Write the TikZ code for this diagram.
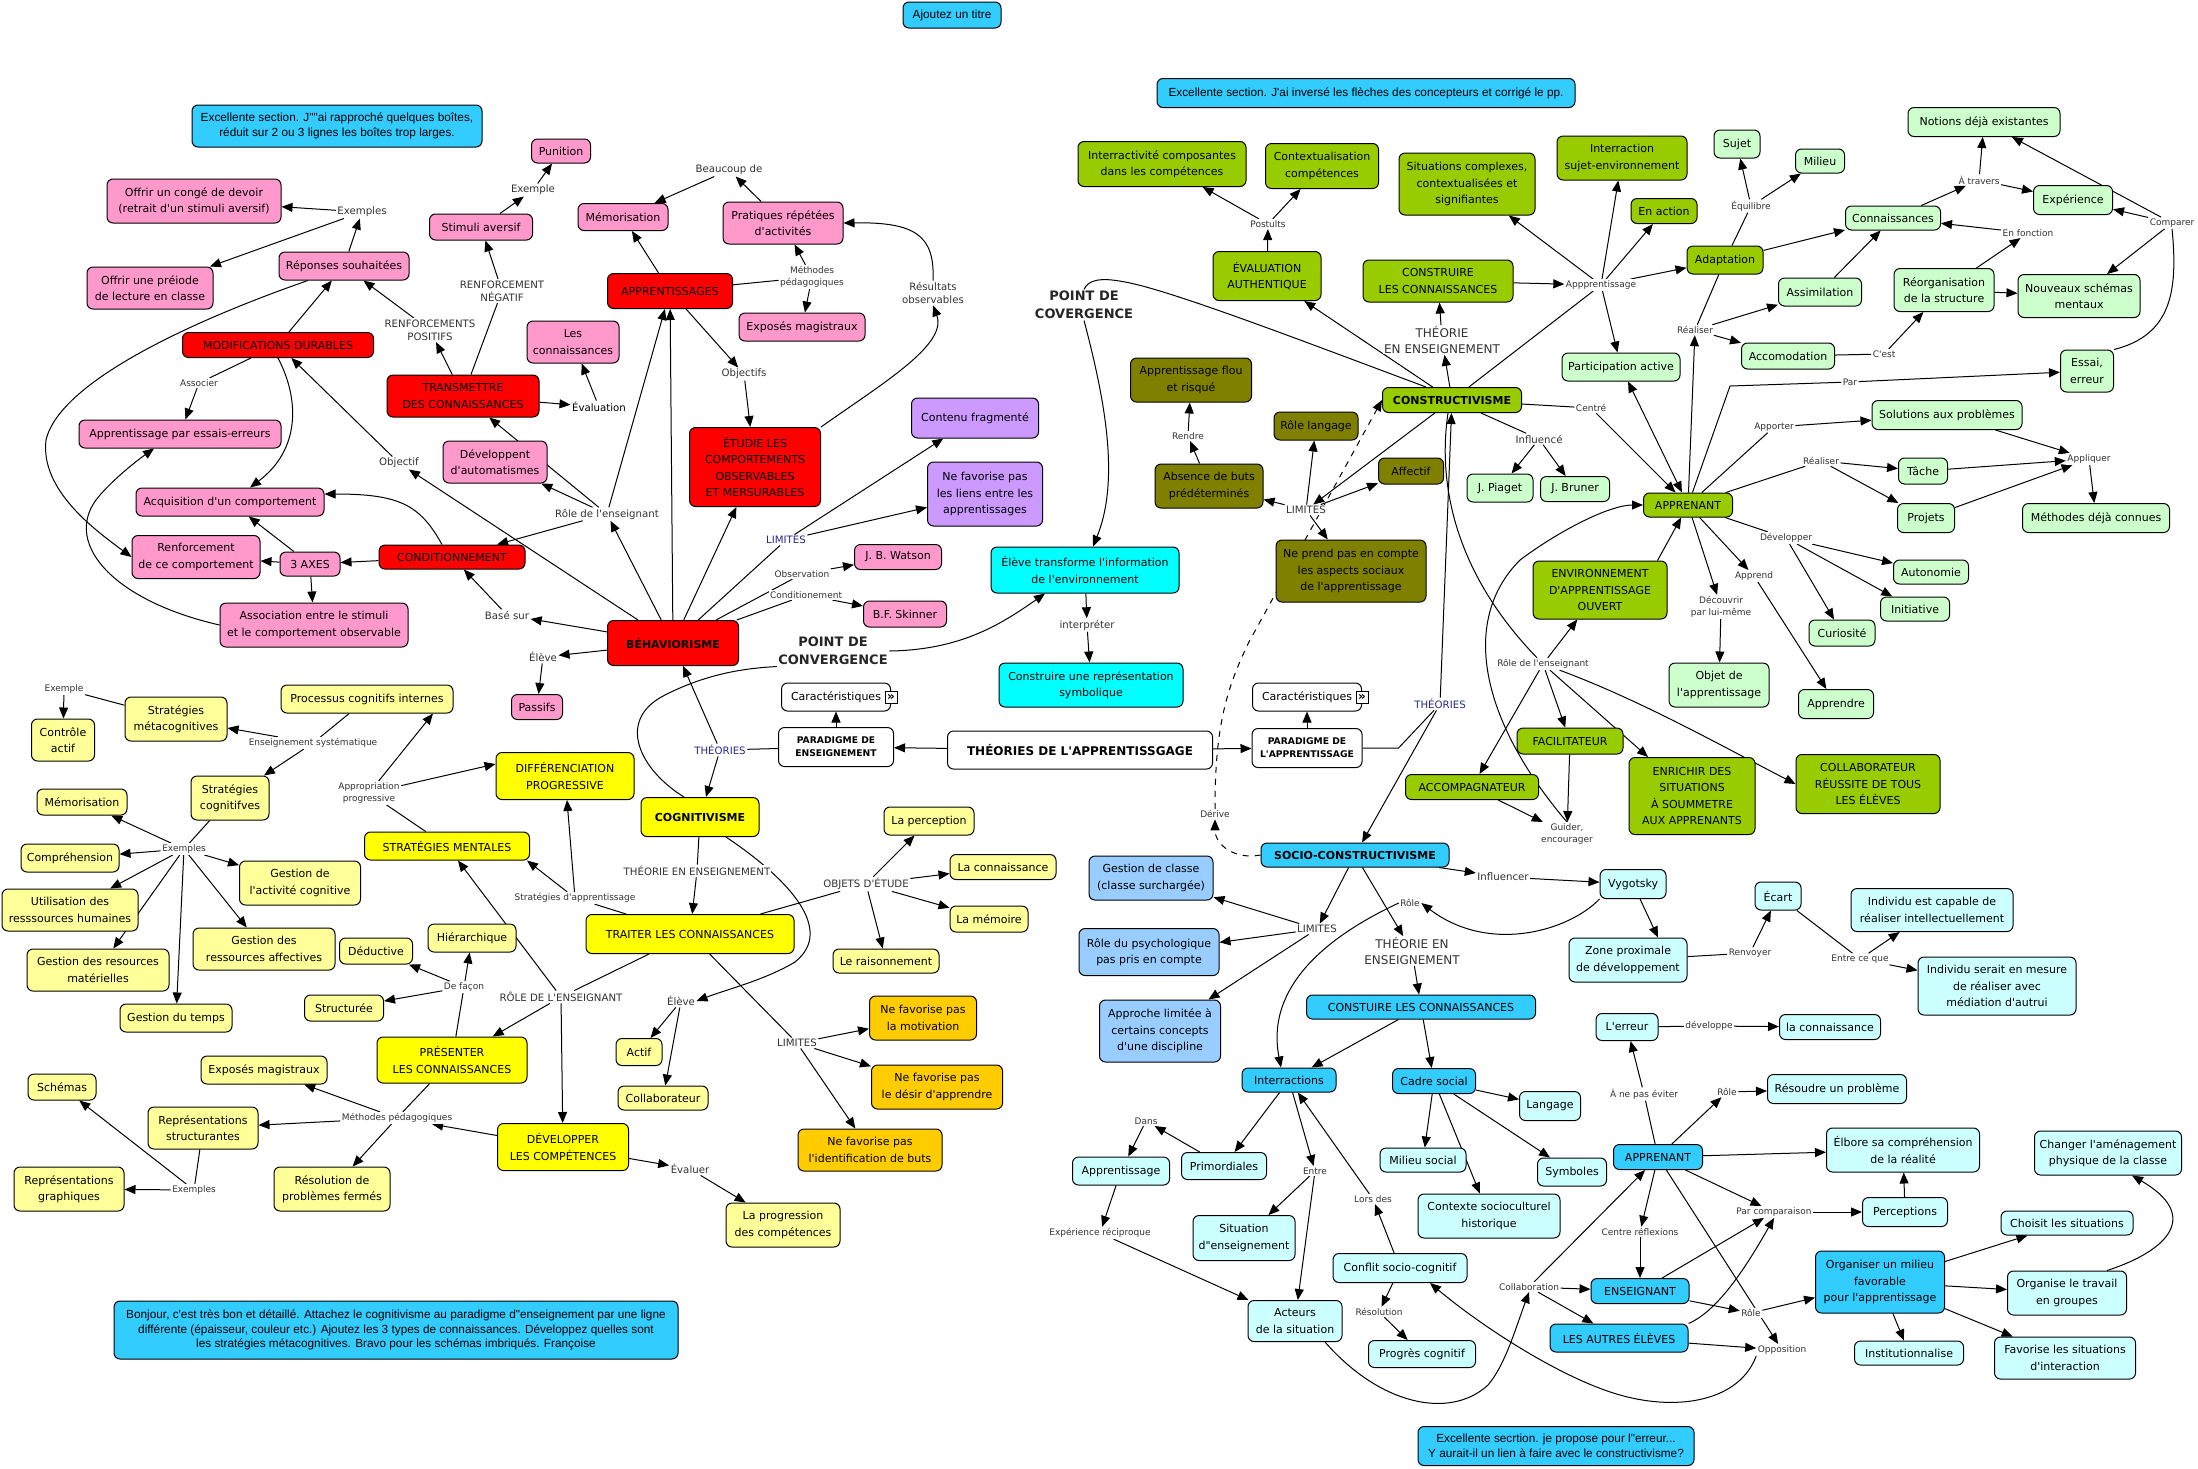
\documentclass[tikz,border=0pt]{standalone}
\usepackage{fontspec}
\setmainfont{DejaVu Sans}
\newfontfamily\mapfamily{DejaVu Sans}
\newfontfamily\mapnotefamily{Liberation Sans}
\usepackage{tikz}
\usetikzlibrary{arrows.meta,backgrounds}
\definecolor{mapPink}{RGB}{255,153,204}
\definecolor{mapRed}{RGB}{255,0,0}
\definecolor{mapYellow}{RGB}{255,255,0}
\definecolor{mapLightYellow}{RGB}{255,255,153}
\definecolor{mapOrange}{RGB}{255,204,0}
\definecolor{mapPurple}{RGB}{204,153,255}
\definecolor{mapCyan}{RGB}{0,255,255}
\definecolor{mapGreen}{RGB}{153,204,0}
\definecolor{mapLightGreen}{RGB}{204,255,204}
\definecolor{mapOlive}{RGB}{128,128,0}
\definecolor{mapBlue}{RGB}{51,204,255}
\definecolor{mapLightBlue}{RGB}{153,204,255}
\definecolor{mapLightCyan}{RGB}{204,255,255}
\definecolor{theoBlue}{RGB}{40,40,140}
\newcommand\mapnode{\mapfamily\fontsize{5.5}{8.2}\selectfont}
\newcommand\maplbl{\mapfamily\fontsize{5.1}{6.6}\selectfont}
\newcommand\mapslbl{\mapfamily\fontsize{4.5}{6}\selectfont}
\newcommand\mapmlbl{\mapfamily\fontsize{6}{7.6}\selectfont}
\newcommand\mapconv{\mapfamily\fontsize{6.5}{9}\selectfont\bfseries}
\newcommand\maptheo{\mapfamily\fontsize{6}{7}\selectfont\bfseries}
\newcommand\mapparad{\mapfamily\fontsize{4.6}{6.4}\selectfont\bfseries}
\newcommand\mapnote{\mapnotefamily\fontsize{5.9}{7.4}\selectfont}

\begin{document}
\begin{tikzpicture}[x=0.5pt, y=-0.5pt, >={Triangle[length=5.5pt,width=4.5pt]},
  box/.style={rounded corners=3pt, draw, line width=0.5pt, align=center, inner sep=1pt, font=\mapnode},
  sz/.style 2 args={minimum width=#1*0.5pt, minimum height=#2*0.5pt},
  pinkbox/.style={box, fill=mapPink},
  redbox/.style={box, fill=mapRed},
  yelbox/.style={box, fill=mapYellow},
  lyelbox/.style={box, fill=mapLightYellow},
  orabox/.style={box, fill=mapOrange},
  purbox/.style={box, fill=mapPurple},
  cyanbox/.style={box, fill=mapCyan},
  grnbox/.style={box, fill=mapGreen},
  lgrnbox/.style={box, fill=mapLightGreen},
  olvbox/.style={box, fill=mapOlive},
  blubox/.style={box, fill=mapBlue},
  lblubox/.style={box, fill=mapLightBlue},
  lcyanbox/.style={box, fill=mapLightCyan},
  whitebox/.style={box, fill=white},
  note/.style={box, fill=mapBlue, font=\mapnote},
  lbl/.style={font=\maplbl, text=black!80, fill=white, inner sep=0.6pt, align=center},
  slbl/.style={lbl, font=\mapslbl},
  mlbl/.style={lbl, font=\mapmlbl},
  plbl/.style={lbl, font=\mapconv, text=black!85},
  thlbl/.style={lbl, text=theoBlue},
  icon/.style={draw, fill=white, inner sep=0pt, minimum size=6pt, font=\mapfamily\fontsize{6}{6}\selectfont\bfseries},
  flow/.style={->, line width=0.5pt},
  ln/.style={line width=0.5pt}]
\useasboundingbox (0,0) rectangle (2198,1468);

\node[note, sz={98}{26}] (nTitre) at (952,15) {Ajoutez un titre};
\node[note, sz={418}{29}] (nSectA) at (1366,93) {Excellente section. J'ai inversé les flèches des concepteurs et corrigé le pp.};
\node[note, sz={290}{42}] (nSectB) at (337,126) {Excellente section. J""ai rapproché quelques boîtes,\\réduit sur 2 ou 3 lignes les boîtes trop larges.};
\node[note, sz={564}{58}] (nBonjour) at (396,1330) {Bonjour, c'est très bon et détaillé. Attachez le cognitivisme au paradigme d"enseignement par une ligne\\différente (épaisseur, couleur etc.) Ajoutez les 3 types de connaissances. Développez quelles sont\\les stratégies métacognitives. Bravo pour les schémas imbriqués. Françoise};
\node[note, sz={276}{39}] (nSecrtion) at (1556,1446) {Excellente secrtion. je propose pour l"erreur...\\Y aurait-il un lien à faire avec le constructivisme?};

\node[pinkbox, sz={174}{44}] (conge) at (194,201) {Offrir un congé de devoir\\(retrait d'un stimuli aversif)};
\node[pinkbox, sz={126}{42}] (preiode) at (150,288) {Offrir une préiode\\de lecture en classe};
\node[pinkbox, sz={130}{28}] (repons) at (344,266) {Réponses souhaitées};
\node[pinkbox, sz={103}{26}] (stimav) at (481,227) {Stimuli aversif};
\node[pinkbox, sz={59}{24}] (punit) at (561,151) {Punition};
\node[redbox, sz={191}{25}] (modif) at (278,345) {MODIFICATIONS DURABLES};
\node[pinkbox, sz={202}{28}] (essais) at (180,434) {Apprentissage par essais-erreurs};
\node[redbox, sz={152}{42}] (transm) at (463,396) {TRANSMETTRE\\DES CONNAISSANCES};
\node[pinkbox, sz={104}{42}] (devaut) at (495,462) {Développent\\d'automatismes};
\node[pinkbox, sz={188}{28}] (acquis) at (230,502) {Acquisition d'un comportement};
\node[pinkbox, sz={128}{43}] (renfc) at (196,557) {Renforcement\\de ce comportement};
\node[pinkbox, sz={60}{24}] (axes) at (310,564) {3 AXES};
\node[redbox, sz={146}{24}] (condi) at (452,557) {CONDITIONNEMENT};
\node[pinkbox, sz={188}{44}] (assoc) at (314,625) {Association entre le stimuli\\et le comportement observable};
\node[pinkbox, sz={90}{27}] (memo) at (623,217) {Mémorisation};
\node[pinkbox, sz={120}{42}] (prat) at (783,223) {Pratiques répétées\\d'activités};
\node[redbox, sz={125}{35}] (apprs) at (670,291) {APPRENTISSAGES};
\node[pinkbox, sz={126}{28}] (expmag) at (802,327) {Exposés magistraux};
\node[pinkbox, sz={92}{42}] (connb) at (573,342) {Les\\connaissances};
\node[redbox, sz={131}{79}] (etudie) at (755,467) {ÉTUDIE LES\\COMPORTEMENTS\\OBSERVABLES\\ET MERSURABLES};
\node[purbox, sz={127}{40}] (contfr) at (975,418) {Contenu fragmenté};
\node[purbox, sz={115}{64}] (liens) at (985,494) {Ne favorise pas\\les liens entre les\\apprentissages};
\node[pinkbox, sz={87}{25}] (watson) at (898,557) {J. B. Watson};
\node[pinkbox, sz={83}{26}] (skinner) at (905,614) {B.F. Skinner};
\node[redbox, sz={131}{45}, font=\mapnode\bfseries] (behav) at (673,643) {BÉHAVIORISME};
\node[pinkbox, sz={51}{25}] (passifs) at (537,707) {Passifs};
\node[cyanbox, sz={188}{46}] (eltrans) at (1085,570) {Élève transforme l'information\\de l'environnement};
\node[cyanbox, sz={184}{44}] (constsym) at (1091,685) {Construire une représentation\\symbolique};

\node[lbl] (lExples) at (362,212) {Exemples};
\node[lbl] (lExple) at (533,190) {Exemple};
\node[lbl] (lRneg) at (502,291) {RENFORCEMENT\\NÉGATIF};
\node[lbl] (lRpos) at (430,330) {RENFORCEMENTS\\POSITIFS};
\node[slbl] (lAssoc) at (199,383) {Associer};
\node[lbl] (lObjf) at (399,463) {Objectif};
\node[lbl] (lBase) at (507,615) {Basé sur};
\node[lbl] (lEleve) at (543,657) {Élève};
\node[lbl] (lBeauc) at (729,170) {Beaucoup de};
\node[slbl] (lMeth) at (812,277) {Méthodes\\pédagogiques};
\node[lbl] (lResult) at (933,293) {Résultats\\observables};
\node[lbl, text=black] (lEval) at (599,407) {Évaluation};
\node[lbl] (lObjs) at (744,374) {Objectifs};
\node[thlbl] (lLimB) at (786,540) {LIMITES};
\node[lbl] (lRole) at (607,514) {Rôle de l'enseignant};
\node[slbl] (lObs) at (802,574) {Observation};
\node[slbl] (lCond) at (806,595) {Conditionement};
\node[plbl] (lPconv) at (833,651) {POINT DE\\CONVERGENCE};
\node[plbl] (lPcov) at (1084,305) {POINT DE\\COVERGENCE};
\node[lbl] (lInterp) at (1087,625) {interpréter};

\node[lyelbox, sz={63}{42}] (ctrl) at (63,740) {Contrôle\\actif};
\node[lyelbox, sz={102}{44}] (metac) at (176,719) {Stratégies\\métacognitives};
\node[lyelbox, sz={172}{28}] (proc) at (367,699) {Processus cognitifs internes};
\node[lyelbox, sz={78}{44}] (cogn) at (230,798) {Stratégies\\cognitifves};
\node[yelbox, sz={138}{47}] (diff) at (565,776) {DIFFÉRENCIATION\\PROGRESSIVE};
\node[lyelbox, sz={90}{26}] (memc) at (82,802) {Mémorisation};
\node[lyelbox, sz={98}{28}] (compr) at (70,858) {Compréhension};
\node[lyelbox, sz={121}{44}] (gact) at (300,883) {Gestion de\\l'activité cognitive};
\node[lyelbox, sz={136}{42}] (utilr) at (70,910) {Utilisation des\\resssources humaines};
\node[yelbox, sz={165}{28}] (stratm) at (447,846) {STRATÉGIES MENTALES};
\node[lyelbox, sz={142}{42}] (gaff) at (264,949) {Gestion des\\ressources affectives};
\node[lyelbox, sz={73}{26}] (deduc) at (376,951) {Déductive};
\node[lyelbox, sz={88}{28}] (hier) at (472,938) {Hiérarchique};
\node[lyelbox, sz={142}{42}] (gmat) at (98,970) {Gestion des resources\\matérielles};
\node[lyelbox, sz={79}{26}] (struc) at (344,1008) {Structurée};
\node[lyelbox, sz={112}{28}] (gtemps) at (176,1018) {Gestion du temps};
\node[yelbox, sz={150}{46}] (presen) at (452,1060) {PRÉSENTER\\LES CONNAISSANCES};
\node[lyelbox, sz={126}{28}] (expmc) at (264,1070) {Exposés magistraux};
\node[lyelbox, sz={68}{26}] (schem) at (62,1087) {Schémas};
\node[lyelbox, sz={110}{42}] (repstr) at (203,1128) {Représentations\\structurantes};
\node[yelbox, sz={131}{47}] (devcomp) at (563,1147) {DÉVELOPPER\\LES COMPÉTENCES};
\node[lyelbox, sz={110}{44}] (repgr) at (69,1189) {Représentations\\graphiques};
\node[lyelbox, sz={116}{44}] (resol) at (332,1189) {Résolution de\\problèmes fermés};
\node[yelbox, sz={118}{39}, font=\mapnode\bfseries] (cognit) at (700,817) {COGNITIVISME};
\node[lyelbox, sz={90}{28}] (percep) at (929,821) {La perception};
\node[lyelbox, sz={106}{25}] (lconn) at (1003,867) {La connaissance};
\node[lyelbox, sz={78}{26}] (lmem) at (989,919) {La mémoire};
\node[yelbox, sz={208}{39}] (traiter) at (690,934) {TRAITER LES CONNAISSANCES};
\node[lyelbox, sz={106}{24}] (raison) at (886,961) {Le raisonnement};
\node[orabox, sz={107}{44}] (motiv) at (923,1018) {Ne favorise pas\\la motivation};
\node[lyelbox, sz={46}{27}] (actif) at (639,1052) {Actif};
\node[orabox, sz={131}{44}] (desir) at (937,1087) {Ne favorise pas\\le désir d'apprendre};
\node[lyelbox, sz={90}{24}] (collab) at (663,1098) {Collaborateur};
\node[orabox, sz={144}{42}] (idbuts) at (870,1150) {Ne favorise pas\\l'identification de buts};
\node[lyelbox, sz={114}{44}] (progr) at (783,1225) {La progression\\des compétences};

\node[slbl] (lExC) at (64,689) {Exemple};
\node[slbl] (lEnsSys) at (313,743) {Enseignement systématique};
\node[slbl] (lAppro) at (369,793) {Appropriation\\progressive};
\node[slbl] (lExs) at (184,849) {Exemples};
\node[slbl] (lDefa) at (464,987) {De façon};
\node[lbl] (lRoleE) at (561,997) {RÔLE DE L'ENSEIGNANT};
\node[slbl] (lStrA) at (575,898) {Stratégies d'apprentissage};
\node[slbl] (lMethP) at (397,1118) {Méthodes pédagogiques};
\node[slbl] (lExs2) at (194,1190) {Exemples};
\node[lbl] (lTheoC) at (697,871) {THÉORIE EN ENSEIGNEMENT};
\node[lbl] (lObjE) at (866,884) {OBJETS D'ÉTUDE};
\node[lbl] (lElC) at (681,1001) {Élève};
\node[lbl] (lLimC) at (797,1043) {LIMITES};
\node[lbl] (lEvalr) at (690,1169) {Évaluer};
\node[thlbl] (lTheoB) at (720,750) {THÉORIES};

\node[whitebox, sz={109}{28}] (cara1) at (836,697) {Caractéristiques};
\node[icon] (ic1) at (cara1.east) {»};
\node[whitebox, sz={115}{39}, font=\mapparad] (paraE) at (836,747) {PARADIGME DE\\ENSEIGNEMENT};
\node[whitebox, sz={265}{38}, font=\maptheo] (theor) at (1080,750) {THÉORIES DE L'APPRENTISSGAGE};
\node[whitebox, sz={110}{39}, font=\mapparad] (paraA) at (1307,748) {PARADIGME DE\\L'APPRENTISSAGE};
\node[whitebox, sz={109}{28}] (cara2) at (1307,697) {Caractéristiques};
\node[icon] (ic2) at (cara2.east) {»};

\node[grnbox, sz={168}{45}] (inter) at (1162,164) {Interractivité composantes\\dans les compétences};
\node[grnbox, sz={113}{45}] (contx) at (1322,166) {Contextualisation\\compétences};
\node[grnbox, sz={136}{62}] (situ) at (1467,184) {Situations complexes,\\contextualisées et\\signifiantes};
\node[grnbox, sz={130}{44}] (sujenv) at (1622,158) {Interraction\\sujet-environnement};
\node[grnbox, sz={108}{49}] (evalA) at (1267,276) {ÉVALUATION\\AUTHENTIQUE};
\node[grnbox, sz={150}{42}] (constr) at (1438,281) {CONSTRUIRE\\LES CONNAISSANCES};
\node[grnbox, sz={66}{25}] (enact) at (1664,211) {En action};
\node[grnbox, sz={76}{28}] (adapt) at (1725,260) {Adaptation};
\node[lgrnbox, sz={118}{28}] (partic) at (1621,367) {Participation active};
\node[olvbox, sz={121}{44}] (flou) at (1191,380) {Apprentissage flou\\et risqué};
\node[olvbox, sz={84}{28}] (rlang) at (1316,426) {Rôle langage};
\node[grnbox, sz={139}{25}, font=\mapnode\bfseries] (constv) at (1452,400) {CONSTRUCTIVISME};
\node[olvbox, sz={108}{44}] (absen) at (1209,486) {Absence de buts\\prédéterminés};
\node[olvbox, sz={65}{26}] (affec) at (1411,471) {Affectif};
\node[lgrnbox, sz={66}{28}] (piaget) at (1500,488) {J. Piaget};
\node[lgrnbox, sz={69}{25}] (bruner) at (1575,489) {J. Bruner};
\node[olvbox, sz={150}{62}] (nesoc) at (1351,571) {Ne prend pas en compte\\les aspects sociaux\\de l'apprentissage};
\node[grnbox, sz={134}{58}] (envir) at (1600,590) {ENVIRONNEMENT\\D'APPRENTISSAGE\\OUVERT};
\node[lgrnbox, sz={152}{29}] (notions) at (1984,122) {Notions déjà existantes};
\node[lgrnbox, sz={46}{28}] (sujet) at (1737,144) {Sujet};
\node[lgrnbox, sz={49}{24}] (milieu) at (1820,161) {Milieu};
\node[lgrnbox, sz={79}{29}] (exper) at (2073,200) {Expérience};
\node[lgrnbox, sz={95}{24}] (connsc) at (1893,218) {Connaissances};
\node[lgrnbox, sz={83}{28}] (assim) at (1820,292) {Assimilation};
\node[lgrnbox, sz={100}{43}] (reorg) at (1944,290) {Réorganisation\\de la structure};
\node[lgrnbox, sz={122}{43}] (nouv) at (2079,296) {Nouveaux schémas\\mentaux};
\node[lgrnbox, sz={93}{26}] (accom) at (1788,356) {Accomodation};
\node[lgrnbox, sz={53}{42}] (essai) at (2087,371) {Essai,\\erreur};
\node[lgrnbox, sz={150}{29}] (solut) at (1947,415) {Solutions aux problèmes};
\node[lgrnbox, sz={49}{26}] (tache) at (1923,471) {Tâche};
\node[grnbox, sz={89}{24}] (apprG) at (1688,505) {APPRENANT};
\node[lgrnbox, sz={57}{29}] (projets) at (1926,518) {Projets};
\node[lgrnbox, sz={147}{29}] (methc) at (2096,518) {Méthodes déjà connues};
\node[lgrnbox, sz={75}{24}] (autono) at (1931,572) {Autonomie};
\node[lgrnbox, sz={69}{24}] (initi) at (1915,609) {Initiative};
\node[lgrnbox, sz={66}{26}] (curio) at (1842,633) {Curiosité};
\node[lgrnbox, sz={100}{44}] (objapp) at (1719,685) {Objet de\\l'apprentissage};
\node[lgrnbox, sz={75}{29}] (apprend) at (1836,704) {Apprendre};
\node[grnbox, sz={106}{26}] (facil) at (1570,741) {FACILITATEUR};
\node[grnbox, sz={133}{25}] (accomp) at (1472,787) {ACCOMPAGNATEUR};
\node[grnbox, sz={126}{77}] (enrich) at (1692,796) {ENRICHIR DES\\SITUATIONS\\À SOUMMETRE\\AUX APPRENANTS};
\node[grnbox, sz={144}{59}] (collR) at (1868,784) {COLLABORATEUR\\RÉUSSITE DE TOUS\\LES ÉLÈVES};

\node[slbl] (lPost) at (1268,224) {Postults};
\node[slbl] (lAppp) at (1601,285) {Appprentissage};
\node[mlbl] (lTheoK) at (1442,340) {THÉORIE\\EN ENSEIGNEMENT};
\node[slbl] (lRendre) at (1188,436) {Rendre};
\node[slbl] (lCentre) at (1591,408) {Centré};
\node[lbl] (lInflu) at (1539,439) {Influencé};
\node[lbl] (lLimK) at (1306,510) {LIMITES};
\node[slbl] (lRoleK) at (1543,664) {Rôle de l'enseignant};
\node[slbl] (lGuider) at (1567,834) {Guider,\\encourager};
\node[slbl] (lEquil) at (1751,206) {Équilibre};
\node[slbl] (lAtrav) at (1979,180) {À travers};
\node[slbl] (lCompar) at (2172,223) {Comparer};
\node[slbl] (lEnfonc) at (2028,233) {En fonction};
\node[slbl] (lReal1) at (1695,330) {Réaliser};
\node[slbl] (lCest) at (1884,354) {C'est};
\node[slbl] (lPar) at (1850,382) {Par};
\node[slbl] (lApport) at (1774,427) {Apporter};
\node[slbl] (lReal2) at (1821,461) {Réaliser};
\node[slbl] (lAppliq) at (2089,459) {Appliquer};
\node[slbl] (lDevel) at (1786,538) {Développer};
\node[slbl] (lAppren) at (1754,576) {Apprend};
\node[slbl] (lDecouv) at (1721,607) {Découvrir\\par lui-même};
\node[thlbl] (lTheoS) at (1440,704) {THÉORIES};
\node[slbl] (lDerive) at (1215,814) {Dérive};

\node[blubox, sz={188}{24}, font=\mapnode\bfseries] (socio) at (1355,855) {SOCIO-CONSTRUCTIVISME};
\node[lblubox, sz={124}{44}] (gclas) at (1151,878) {Gestion de classe\\(classe surchargée)};
\node[lblubox, sz={140}{47}] (rpsy) at (1149,952) {Rôle du psychologique\\pas pris en compte};
\node[lblubox, sz={121}{62}] (approl) at (1160,1031) {Approche limitée à\\certains concepts\\d'une discipline};
\node[blubox, sz={229}{24}] (constu) at (1421,1007) {CONSTUIRE LES CONNAISSANCES};
\node[blubox, sz={94}{24}] (interr) at (1289,1080) {Interractions};
\node[blubox, sz={83}{25}] (cadre) at (1434,1081) {Cadre social};
\node[lcyanbox, sz={61}{29}] (langg) at (1550,1106) {Langage};
\node[lcyanbox, sz={97}{28}] (apprs2) at (1121,1171) {Apprentissage};
\node[lcyanbox, sz={85}{27}] (primo) at (1224,1166) {Primordiales};
\node[lcyanbox, sz={86}{24}] (msoc) at (1423,1160) {Milieu social};
\node[lcyanbox, sz={69}{28}] (symb) at (1572,1172) {Symboles};
\node[lcyanbox, sz={142}{44}] (contex) at (1489,1216) {Contexte socioculturel\\historique};
\node[lcyanbox, sz={102}{45}] (situE) at (1244,1238) {Situation\\d"enseignement};
\node[lcyanbox, sz={134}{29}] (conflit) at (1400,1268) {Conflit socio-cognitif};
\node[lcyanbox, sz={94}{41}] (acteurs) at (1295,1321) {Acteurs\\de la situation};
\node[lcyanbox, sz={107}{27}] (progc) at (1422,1354) {Progrès cognitif};
\node[lcyanbox, sz={66}{29}] (vygot) at (1633,884) {Vygotsky};
\node[lcyanbox, sz={46}{28}] (ecart) at (1778,896) {Écart};
\node[lcyanbox, sz={162}{43}] (indcap) at (1932,910) {Individu est capable de\\réaliser intellectuellement};
\node[lcyanbox, sz={118}{44}] (zone) at (1628,960) {Zone proximale\\de développement};
\node[lcyanbox, sz={158}{58}] (indser) at (1997,986) {Individu serait en mesure\\de réaliser avec\\médiation d'autrui};
\node[lcyanbox, sz={62}{27}] (erreur) at (1627,1027) {L'erreur};
\node[lcyanbox, sz={101}{25}] (laconn) at (1830,1027) {la connaissance};
\node[lcyanbox, sz={139}{29}] (resoud) at (1837,1089) {Résoudre un problème};
\node[blubox, sz={89}{25}] (apprB) at (1658,1157) {APPRENANT};
\node[lcyanbox, sz={153}{44}] (elbore) at (1903,1150) {Élbore sa compréhension\\de la réalité};
\node[lcyanbox, sz={147}{44}] (changer) at (2108,1153) {Changer l'aménagement\\physique de la classe};
\node[lcyanbox, sz={85}{29}] (percp) at (1905,1212) {Perceptions};
\node[lcyanbox, sz={132}{24}] (choisit) at (2067,1223) {Choisit les situations};
\node[blubox, sz={129}{62}] (organ) at (1880,1282) {Organiser un milieu\\favorable\\pour l'apprentissage};
\node[blubox, sz={98}{25}] (enseig) at (1640,1291) {ENSEIGNANT};
\node[lcyanbox, sz={119}{44}] (orgtr) at (2067,1293) {Organise le travail\\en groupes};
\node[blubox, sz={138}{28}] (autres) at (1619,1338) {LES AUTRES ÉLÈVES};
\node[lcyanbox, sz={109}{24}] (instit) at (1909,1353) {Institutionnalise};
\node[lcyanbox, sz={141}{42}] (favor) at (2065,1358) {Favorise les situations\\d'interaction};

\node[lbl] (lInfl2) at (1503,877) {Influencer};
\node[slbl] (lRoleS) at (1410,903) {Rôle};
\node[lbl] (lLimS) at (1317,929) {LIMITES};
\node[mlbl] (lTheoS2) at (1412,951) {THÉORIE EN\\ENSEIGNEMENT};
\node[slbl] (lRenv) at (1750,953) {Renvoyer};
\node[slbl] (lEntreq) at (1860,959) {Entre ce que};
\node[slbl] (lDevp) at (1709,1026) {développe};
\node[slbl] (lApas) at (1644,1094) {À ne pas éviter};
\node[slbl] (lRole2) at (1727,1092) {Rôle};
\node[slbl] (lDans) at (1146,1121) {Dans};
\node[slbl] (lEntre) at (1315,1171) {Entre};
\node[slbl] (lLors) at (1373,1199) {Lors des};
\node[slbl] (lExpR) at (1100,1233) {Expérience réciproque};
\node[slbl] (lParc) at (1774,1212) {Par comparaison};
\node[slbl] (lCentR) at (1640,1232) {Centre réflexions};
\node[slbl] (lCollab) at (1529,1287) {Collaboration};
\node[slbl] (lResolu) at (1379,1312) {Résolution};
\node[slbl] (lRole3) at (1751,1313) {Rôle};
\node[slbl] (lOppo) at (1782,1350) {Opposition};

\begin{scope}[on background layer]
\fill[white] (0,0) rectangle (2198,1468);
\draw[flow] (behav) -- (lBase);
\draw[flow] (lBase) -- (condi);
\draw[flow] (behav) -- (lEleve);
\draw[flow] (lEleve) -- (passifs);
\draw[flow] (behav) -- (lObjf);
\draw[flow] (lObjf) -- (modif);
\draw[flow] (behav) -- (lRole);
\draw[flow] (lRole) -- (apprs);
\draw[flow] (lRole) -- (transm);
\draw[flow] (lRole) -- (devaut);
\draw[flow] (lRole) -- (condi);
\draw[flow] (behav) -- (apprs);
\draw[flow] (behav) -- (etudie);
\draw[ln] (behav) -- (lLimB);
\draw[flow] (lLimB) -- (contfr);
\draw[flow] (lLimB) -- (liens);
\draw[ln] (behav) -- (lObs);
\draw[flow] (lObs) -- (watson);
\draw[ln] (behav) -- (lCond);
\draw[flow] (lCond) -- (skinner);
\draw[flow] (apprs) -- (memo);
\draw[flow] (prat) -- (lBeauc);
\draw[flow] (lBeauc) -- (memo);
\draw[ln] (apprs) -- (lMeth);
\draw[flow] (lMeth) -- (prat);
\draw[flow] (lMeth) -- (expmag);
\draw[flow] (apprs) -- (lObjs);
\draw[flow] (lObjs) -- (etudie);
\draw[flow] (etudie.north east) .. controls (880,385) and (948,345) .. (lResult.south);
\draw[flow] (lResult.north) .. controls (935,235) and (915,222) .. (prat.east);
\draw[flow] (transm) -- (lEval);
\draw[flow] (lEval) -- (connb);
\draw[flow] (transm) -- (lRpos);
\draw[flow] (lRpos) -- (repons);
\draw[ln] (transm) -- (lRneg);
\draw[flow] (lRneg) -- (stimav);
\draw[flow] (stimav) -- (lExple);
\draw[flow] (lExple) -- (punit);
\draw[flow] (repons) -- (lExples);
\draw[flow] (lExples) -- (conge);
\draw[flow] (lExples) -- (preiode);
\draw[flow] (modif) -- (repons);
\draw[ln] (modif) -- (lAssoc);
\draw[flow] (lAssoc) -- (essais);
\draw[flow] (modif.south) .. controls (300,400) and (300,450) .. ([xshift=10pt]acquis.north);
\draw[flow] ([xshift=-18pt]repons.south) .. controls (200,318) and (60,380) .. (46,440) .. controls (40,490) and (95,530) .. (renfc.west);
\draw[flow] (assoc.west) .. controls (110,600) and (60,540) .. (100,495) .. controls (115,478) and (135,462) .. ([xshift=-13pt]essais.south);
\draw[flow] ([xshift=-5pt]condi.north) .. controls (420,505) and (400,494) .. ([yshift=4pt]acquis.east);
\draw[flow] (condi) -- (axes);
\draw[flow] (axes) -- (acquis);
\draw[flow] (axes) -- (renfc);
\draw[flow] (axes) -- (assoc);
\draw[ln] ([xshift=-8pt]cognit.north) .. controls (640,770) and (615,720) .. (665,695) .. controls (710,672) and (750,668) .. (lPconv.south west);
\draw[flow] (lPconv.east) .. controls (960,650) and (1000,625) .. ([xshift=-20pt]eltrans.south);
\draw[ln] ([xshift=-13pt]constv.north) .. controls (1300,340) and (1170,290) .. (1125,282) .. controls (1100,277) and (1088,280) .. (lPcov.north);
\draw[flow] (lPcov.south) .. controls (1105,400) and (1120,480) .. ([xshift=4pt]eltrans.north);
\draw[flow] (eltrans) -- (lInterp);
\draw[flow] (lInterp) -- (constsym);

\draw[ln] (paraE) -- (lTheoB);
\draw[flow] (lTheoB) -- (behav);
\draw[flow] (lTheoB) -- (cognit);
\draw[ln] (cognit) -- (lTheoC);
\draw[flow] (lTheoC) -- (traiter);
\draw[flow] ([xshift=13pt]cognit.south) .. controls (790,880) and (835,930) .. (795,962) .. controls (765,980) and (725,990) .. (lElC.east);
\draw[flow] (lElC) -- (actif);
\draw[flow] (lElC) -- (collab);
\draw[ln] (traiter) -- (lObjE);
\draw[flow] (lObjE) -- (percep);
\draw[flow] (lObjE) -- (lconn);
\draw[flow] (lObjE) -- (lmem);
\draw[flow] (lObjE) -- (raison);
\draw[ln] (traiter) -- (lLimC);
\draw[flow] (lLimC) -- (motiv);
\draw[flow] (lLimC) -- (desir);
\draw[flow] (lLimC) -- (idbuts);
\draw[ln] (traiter) -- (lStrA);
\draw[flow] (lStrA) -- ([xshift=40pt]stratm.south);
\draw[flow] (lStrA) -- (diff);
\draw[ln] (traiter) -- (lRoleE);
\draw[flow] (lRoleE) -- (presen);
\draw[flow] (lRoleE) -- (devcomp);
\draw[flow] (lRoleE) -- (stratm);
\draw[ln] (stratm) -- (lAppro);
\draw[flow] (lAppro) -- ([xshift=33pt]proc.south);
\draw[flow] (lAppro) -- ([yshift=6pt]diff.west);
\draw[ln] (presen) -- (lDefa);
\draw[flow] (lDefa) -- (hier);
\draw[flow] (lDefa) -- (deduc);
\draw[flow] (lDefa) -- (struc);
\draw[ln] (presen) -- (lMethP);
\draw[flow] (devcomp) -- (lMethP);
\draw[flow] (lMethP) -- (expmc);
\draw[flow] (lMethP) -- (repstr);
\draw[flow] (lMethP) -- (resol);
\draw[flow] (devcomp) -- (lEvalr);
\draw[flow] (lEvalr) -- (progr);
\draw[ln] (repstr) -- (lExs2);
\draw[flow] (lExs2) -- (schem);
\draw[flow] (lExs2) -- (repgr);
\draw[ln] (proc) -- (lEnsSys);
\draw[flow] (lEnsSys) -- (metac);
\draw[flow] (lEnsSys) -- (cogn);
\draw[ln] (metac) -- (lExC);
\draw[flow] (lExC) -- (ctrl);
\draw[ln] (cogn) -- (lExs);
\draw[flow] (lExs) -- (memc);
\draw[flow] (lExs) -- (compr);
\draw[flow] (lExs) -- (utilr);
\draw[flow] (lExs) -- (gmat);
\draw[flow] (lExs) -- (gtemps);
\draw[flow] (lExs) -- (gaff);
\draw[flow] (lExs) -- (gact);

\draw[flow] (theor) -- (paraE);
\draw[flow] (theor) -- (paraA);
\draw[flow] (paraE) -- (cara1);
\draw[flow] (paraA) -- (cara2);
\draw[ln] (paraA.east) -- ++(36,0) -- (lTheoS);
\draw[flow] (lTheoS) -- (constv);
\draw[flow] (lTheoS) -- (socio);

\draw[flow] (constv) -- (lTheoK);
\draw[flow] (lTheoK) -- (constr);
\draw[flow] (constv) -- (evalA);
\draw[flow] (evalA) -- (lPost);
\draw[flow] (lPost) -- (inter);
\draw[flow] (lPost) -- (contx);
\draw[flow] (constr) -- (lAppp);
\draw[ln] (constv) -- (lAppp);
\draw[flow] (lAppp) -- (situ);
\draw[flow] (lAppp) -- (sujenv);
\draw[flow] (lAppp) -- (enact);
\draw[flow] (lAppp) -- (adapt);
\draw[flow] (lAppp) -- (partic);
\draw[ln] (constv) -- (lCentre);
\draw[flow] (lCentre) -- (apprG);
\draw[ln] (constv) -- (lInflu);
\draw[flow] (lInflu) -- (piaget);
\draw[flow] (lInflu) -- (bruner);
\draw[flow] (constv) -- (lLimK);
\draw[flow] (lLimK) -- (absen);
\draw[flow] (lLimK) -- (rlang);
\draw[flow] (lLimK) -- (affec);
\draw[flow] (lLimK) -- (nesoc);
\draw[flow] (absen) -- (lRendre);
\draw[flow] (lRendre) -- (flou);
\draw[flow, dashed] (socio.west) .. controls (1235,860) and (1215,845) .. (lDerive.south);
\draw[flow, dashed] (lDerive.north) .. controls (1215,730) and (1225,690) .. (1250,640) -- (constv.west);
\draw[ln] (adapt) -- (lEquil);
\draw[flow] (lEquil) -- (sujet);
\draw[flow] (lEquil) -- (milieu);
\draw[flow] (adapt) -- (connsc);
\draw[ln] (adapt) -- (lReal1);
\draw[flow] (apprG) -- (lReal1);
\draw[flow] (lReal1) -- (assim);
\draw[flow] (lReal1) -- (accom);
\draw[flow] (assim) -- (connsc);
\draw[ln] (accom) -- (lCest);
\draw[flow] (lCest) -- (reorg);
\draw[flow] (reorg) -- (lEnfonc);
\draw[flow] (lEnfonc) -- (connsc);
\draw[flow] (reorg) -- (nouv);
\draw[flow] (connsc) -- (lAtrav);
\draw[flow] (lAtrav) -- (notions);
\draw[flow] (lAtrav) -- (exper);
\draw[ln] (essai.north east) .. controls (2172,335) and (2178,290) .. (lCompar.south);
\draw[flow] (lCompar) -- (notions);
\draw[flow] (lCompar) -- (exper);
\draw[flow] (lCompar) -- (nouv);
\draw[ln] (apprG) -- (1730,386) -- (lPar);
\draw[flow] (lPar) -- (essai);
\draw[ln] (apprG) -- (lApport);
\draw[flow] (lApport) -- (solut);
\draw[ln] (apprG) -- (lReal2);
\draw[flow] (lReal2) -- (tache);
\draw[flow] (lReal2) -- (projets);
\draw[flow] (solut) -- (lAppliq);
\draw[flow] (tache) -- (lAppliq);
\draw[flow] (projets) -- (lAppliq);
\draw[flow] (lAppliq) -- (methc);
\draw[ln] (apprG) -- (lDevel);
\draw[flow] (lDevel) -- (autono);
\draw[flow] (lDevel) -- (initi);
\draw[flow] (lDevel) -- (curio);
\draw[flow] (apprG) -- (lAppren);
\draw[flow] (lAppren) -- (apprend);
\draw[flow] (apprG) -- (lDecouv);
\draw[flow] (lDecouv) -- (objapp);
\draw[<->, line width=0.5pt] (partic) -- (apprG);
\draw[flow] ([xshift=-5pt]envir.north east) -- (apprG);
\draw[ln] ([xshift=-2pt]constv.south) .. controls (1438,480) and (1452,570) .. (lRoleK);
\draw[flow] (lRoleK) -- (envir);
\draw[flow] (lRoleK) -- (facil);
\draw[flow] (lRoleK) -- (accomp);
\draw[flow] (lRoleK) -- (enrich);
\draw[flow] (lRoleK) .. controls (1640,700) and (1720,745) .. (collR.west);
\draw[flow] (facil) -- (lGuider);
\draw[flow] (accomp) -- (lGuider);
\draw[flow] (lGuider.north) .. controls (1480,720) and (1460,620) .. (1520,560) .. controls (1560,530) and (1610,505) .. (apprG.west);

\draw[flow] (socio) -- (lLimS);
\draw[flow] (lLimS) -- (gclas);
\draw[flow] (lLimS) -- (rpsy);
\draw[flow] (lLimS) -- (approl);
\draw[flow] (socio) -- (lTheoS2);
\draw[flow] (lTheoS2) -- (constu);
\draw[flow] (socio) -- (lInfl2);
\draw[flow] (lInfl2) -- (vygot);
\draw[flow] (vygot.south west) .. controls (1570,930) and (1490,955) .. (lRoleS.east);
\draw[flow] (lRoleS.west) .. controls (1330,935) and (1265,985) .. ([xshift=-4pt]interr.north);
\draw[flow] (vygot) -- ([xshift=15pt]zone.north);
\draw[ln] (zone) -- (lRenv);
\draw[flow] (lRenv) -- (ecart);
\draw[ln] (ecart) -- (lEntreq);
\draw[flow] (lEntreq) -- (indcap);
\draw[flow] (lEntreq) -- (indser);
\draw[flow] (constu) -- (interr);
\draw[flow] (constu) -- (cadre);
\draw[flow] (cadre) -- (msoc);
\draw[flow] (cadre) -- (contex);
\draw[flow] (cadre) -- (symb);
\draw[flow] (cadre) -- (langg);
\draw[flow] (interr) -- (primo);
\draw[flow] (primo) -- (lDans);
\draw[flow] (lDans) -- (apprs2);
\draw[flow] (apprs2) -- (lExpR);
\draw[flow] (lExpR) -- (acteurs);
\draw[flow] (interr) -- (lEntre);
\draw[flow] (lEntre) -- (situE);
\draw[flow] (lEntre) -- (acteurs);
\draw[flow] (conflit) -- (lLors);
\draw[flow] (lLors) -- (interr);
\draw[flow] (conflit) -- (lResolu);
\draw[flow] (lResolu) -- (progc);
\draw[flow] ([xshift=15pt]acteurs.south) .. controls (1380,1405) and (1450,1420) .. (1488,1385) .. controls (1505,1365) and (1515,1330) .. (lCollab.south);
\draw[flow] (lCollab) -- (enseig);
\draw[flow] (lCollab) -- (autres);
\draw[flow] (lCollab) -- (apprB);
\draw[flow] (apprB) -- (lOppo);
\draw[flow] (autres) -- (lOppo);
\draw[flow] (lOppo.south west) .. controls (1740,1400) and (1680,1412) .. (1620,1395) .. controls (1560,1378) and (1480,1325) .. ([xshift=15pt]conflit.south);
\draw[flow] (apprB) -- (lRole2);
\draw[flow] (lRole2) -- (resoud);
\draw[flow] (apprB) -- (elbore);
\draw[flow] (apprB) -- (lParc);
\draw[flow] (enseig) -- (lParc);
\draw[flow] (autres.north east) .. controls (1720,1310) and (1750,1260) .. (lParc.south);
\draw[flow] (lParc) -- (percp);
\draw[flow] (percp) -- (elbore);
\draw[flow] (apprB) -- (lCentR);
\draw[flow] (lCentR) -- (enseig);
\draw[ln] (apprB) -- (lApas);
\draw[flow] (lApas) -- (erreur);
\draw[ln] (erreur) -- (lDevp);
\draw[flow] (lDevp) -- (laconn);
\draw[flow] (enseig) -- (lRole3);
\draw[flow] (lRole3) -- (organ);
\draw[flow] (organ) -- (choisit);
\draw[flow] (organ) -- (orgtr);
\draw[flow] (organ) -- (instit);
\draw[flow] (organ) -- (favor);
\draw[flow] ([xshift=20pt]orgtr.north) .. controls (2170,1250) and (2200,1215) .. ([xshift=12pt]changer.south);
\end{scope}
\end{tikzpicture}
\end{document}
